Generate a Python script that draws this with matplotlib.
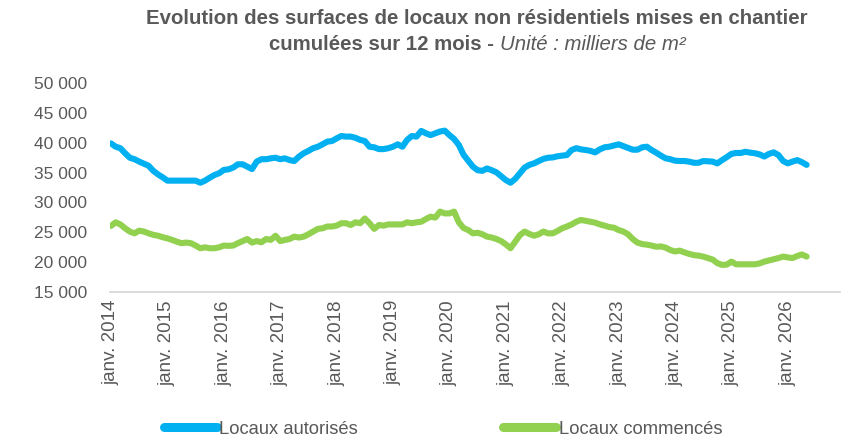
import numpy as np
import matplotlib
matplotlib.use("Agg")
import matplotlib.pyplot as plt

# monthly values, janv. 2014 -> mai 2026 (milliers de m²)
autorises = [
    39900, 39350, 39100, 38250, 37500, 37250, 36850, 36500, 36150, 35300, 34700, 34200,
    33650, 33650, 33650, 33650, 33650, 33650, 33650, 33300, 33650, 34150, 34600, 34900,
    35450, 35550, 35850, 36400, 36400, 36000, 35600, 36850, 37250, 37250, 37400, 37500,
    37250, 37400, 37100, 36950, 37700, 38250, 38650, 39100, 39350, 39750, 40200, 40300,
    40750, 41150, 41050, 41050, 40850, 40500, 40300, 39350, 39250, 38950, 38950, 39100,
    39350, 39750, 39350, 40500, 41150, 41050, 42000, 41600, 41300, 41600, 41900, 42050,
    41300, 40650, 39650, 38000, 37000, 36000, 35400, 35300, 35700, 35400, 35050, 34400,
    33750, 33300, 33950, 34900, 35850, 36300, 36550, 36950, 37300, 37500, 37550, 37750,
    37850, 37950, 38800, 39100, 38900, 38800, 38650, 38400, 38900, 39250, 39350, 39550,
    39750, 39450, 39150, 38850, 38850, 39250, 39350, 38800, 38350, 37850, 37400, 37250,
    37000, 36950, 36950, 36850, 36650, 36650, 36950, 36900, 36850, 36550, 37100, 37600,
    38150, 38300, 38300, 38500, 38350, 38250, 38050, 37700, 38150, 38400, 37950, 36950,
    36550, 36850, 37100, 36750, 36300,
]
commences = [
    26050, 26650, 26300, 25650, 25100, 24800, 25250, 25100, 24800, 24550, 24400, 24150,
    23950, 23700, 23400, 23150, 23250, 23150, 22750, 22300, 22450, 22300, 22300, 22450,
    22750, 22700, 22750, 23150, 23500, 23850, 23250, 23500, 23300, 23850, 23700, 24400,
    23500, 23700, 23850, 24250, 24100, 24250, 24650, 25100, 25550, 25650, 25950, 25950,
    26100, 26500, 26500, 26200, 26650, 26500, 27300, 26500, 25550, 26200, 26100, 26300,
    26300, 26300, 26300, 26650, 26500, 26650, 26750, 27200, 27600, 27450, 28450, 28150,
    28150, 28450, 26650, 25700, 25350, 24800, 24900, 24650, 24250, 24100, 23850, 23500,
    22950, 22300, 23400, 24500, 25100, 24700, 24400, 24650, 25100, 24800, 24800, 25200,
    25650, 25950, 26300, 26750, 27050, 26900, 26750, 26600, 26300, 26100, 25850, 25750,
    25350, 25100, 24650, 23850, 23250, 23000, 22900, 22750, 22550, 22600, 22400, 22000,
    21750, 21900, 21600, 21350, 21150, 21050, 20900, 20650, 20400, 19800, 19500, 19550,
    20050, 19600, 19600, 19600, 19600, 19600, 19750, 20050, 20250, 20450, 20650, 20900,
    20750, 20650, 21000, 21250, 20900,
]
years = list(range(2014, 2027))
year_labels = ["janv. %d" % y for y in years]
yticks = [15000, 20000, 25000, 30000, 35000, 40000, 45000, 50000]

grey = "#595959"
fam = ["Liberation Sans", "DejaVu Sans"]

W, H = 843, 438
fig = plt.figure(figsize=(W / 100, H / 100), dpi=100)
# axes placed in pixel terms of the reference
x0, x1 = 109.6, 840.0
y_top, y_bot = 83.3, 291.7
ax = fig.add_axes([x0 / W, (H - y_bot) / H, (x1 - x0) / W, (y_bot - y_top) / H])

months = np.arange(len(autorises))
(l1,) = ax.plot(months, autorises, color="#00B0F0", lw=4.4, solid_capstyle="round",
                solid_joinstyle="round", label="Locaux autorisés")
(l2,) = ax.plot(months, commences, color="#92D050", lw=4.4, solid_capstyle="round",
                solid_joinstyle="round", label="Locaux commencés")

ax.set_xlim(-0.3, 155.1)
ax.set_ylim(15000, 50000)
ax.set_yticks(yticks)
ax.set_yticklabels(["{:,}".format(v).replace(",", " ") for v in yticks],
                   family=fam, fontsize=12.5, color=grey)
ax.set_xticks([12 * i for i in range(len(years))])
ax.set_xticklabels(year_labels, rotation=90, family=fam, fontsize=13.5, color=grey,
                   va="top", ha="center")
ax.tick_params(axis="y", length=0, pad=16)
ax.tick_params(axis="x", length=0, pad=6)
for s in ["top", "right", "left"]:
    ax.spines[s].set_visible(False)
ax.spines["bottom"].set_color("#D9D9D9")
ax.spines["bottom"].set_linewidth(1.3)

# title: line 1 bold, line 2 bold + italic part
fig.text(477 / W, 1 - 18 / H, "Evolution des surfaces de locaux non résidentiels mises en chantier",
         ha="center", va="center", family=fam, fontweight="bold", fontsize=14.7, color=grey)
r = fig.canvas.get_renderer()
t_a = fig.text(0, 1 - 44 / H, "cumulées sur 12 mois - ", ha="left", va="center",
               family=fam, fontweight="bold", fontsize=14.7, color=grey)
t_b = fig.text(0, 1 - 44 / H, "Unité : milliers de m²", ha="left", va="center",
               family=fam, style="italic", fontsize=14.7, color=grey)
wa = t_a.get_window_extent(r).width
wb = t_b.get_window_extent(r).width
start = 477 - (wa + wb) / 2
t_a.set_x(start / W)
t_b.set_x((start + wa) / W)

# legend
leg = fig.legend(handles=[l1, l2], loc="center", bbox_to_anchor=(443 / W, 1 - 429 / H),
                 ncol=2, frameon=False, handlelength=2.9, handletextpad=0.15,
                 columnspacing=7.9, prop={"family": fam, "size": 13.2})
for t in leg.get_texts():
    t.set_color(grey)
for h in leg.legend_handles:
    h.set_linewidth(6.5)

fig.savefig("out.png", dpi=100)
